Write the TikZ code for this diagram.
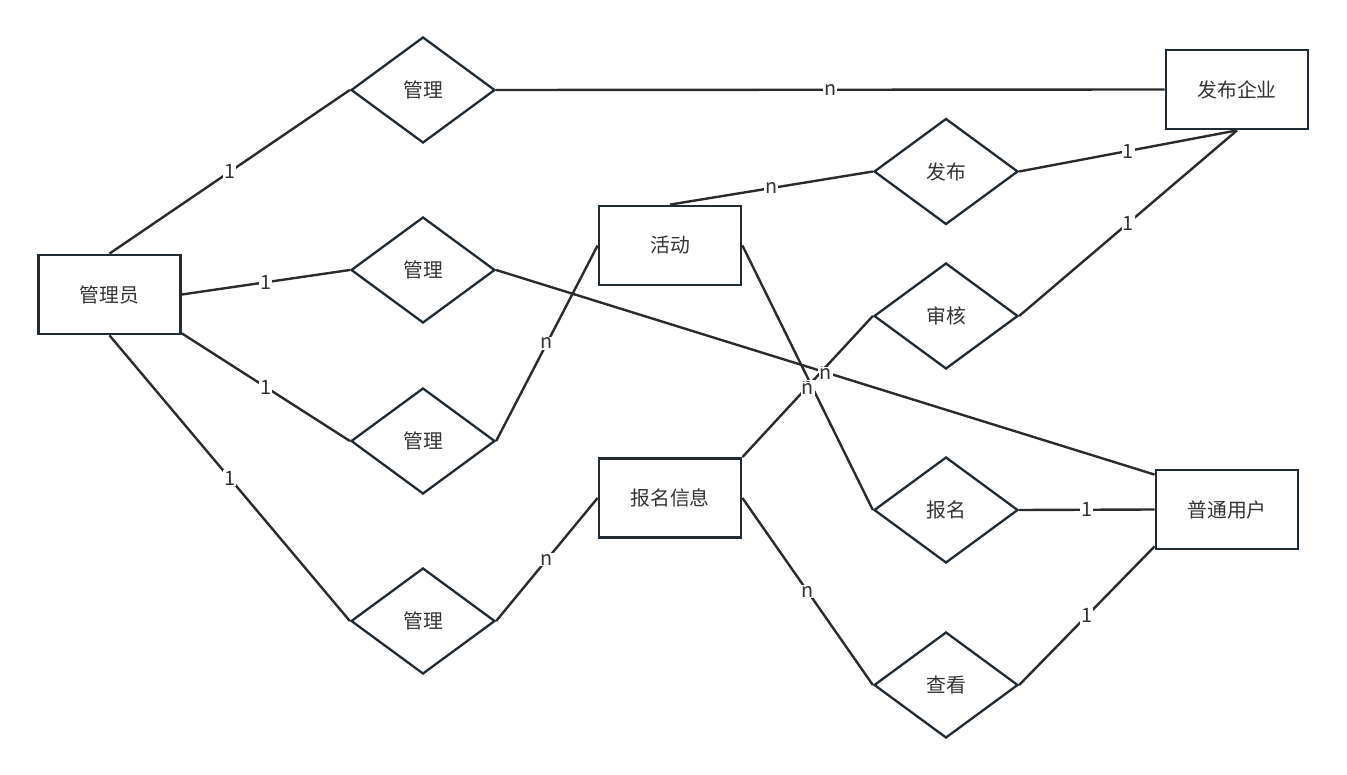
\documentclass[tikz,border=0pt]{standalone}
\usepackage{fontspec}
\setmainfont{Noto Sans CJK SC}
\usetikzlibrary{shapes.geometric}
\definecolor{boxline}{HTML}{212B33}
\definecolor{edgeline}{HTML}{2B2B2B}
\definecolor{txt}{HTML}{333333}
\tikzset{
  entity/.style={draw=boxline,line width=2.8pt,fill=white,minimum width=142pt,minimum height=79pt,inner sep=0pt,text=txt},
  relation/.style={draw=boxline,diamond,aspect=1.36,line width=2.3pt,fill=white,minimum width=144pt,minimum height=106pt,inner sep=0pt,text=txt},
  link/.style={draw=edgeline,line width=2.4pt},
  card/.style={fill=white,inner sep=1pt,text=txt}
}
\begin{document}
\begin{tikzpicture}[x=1pt,y=-1pt,font=\fontsize{19.8}{22}\selectfont]
    \useasboundingbox (0,0) rectangle (1347,775);
    % entities
    \node [entity] (admin) at (109.5,294.5) {管理员};
    \node [entity] (corp) at (1237,89.5) {发布企业};
    \node [entity] (act) at (670,245.5) {活动};
    \node [entity] (enroll) at (670,498) {报名信息};
    \node [entity] (user) at (1227,509.5) {普通用户};
    % relations
    \node [relation] (m1) at (423,90) {管理};
    \node [relation] (m2) at (423,270) {管理};
    \node [relation] (m3) at (423,441) {管理};
    \node [relation] (m4) at (423,621) {管理};
    \node [relation] (pub) at (946,171.5) {发布};
    \node [relation] (chk) at (946,316) {审核};
    \node [relation] (sign) at (946,510) {报名};
    \node [relation] (look) at (946,685) {查看};
    % links
    \draw [link] (admin.north) -- (m1.west) node [card,pos=0.5] {1};
    \draw [link] (m1.east) -- (corp.west) node [card,pos=0.5] {n};
    \draw [link] (admin.east) -- (m2.west) node [card,pos=0.5] {1};
    \draw [link] (m2.east) -- ([yshift=-6pt]user.north west) node [card,pos=0.5] {n};
    \draw [link] ([yshift=2pt]admin.south east) -- (m3.west) node [card,pos=0.5] {1};
    \draw [link] (m3.east) -- (act.west) node [card,pos=0.5] {n};
    \draw [link] (admin.south) -- (m4.west) node [card,pos=0.5] {1};
    \draw [link] (m4.east) -- (enroll.west) node [card,pos=0.5] {n};
    \draw [link] (act.north) -- (pub.west) node [card,pos=0.5] {n};
    \draw [link] (pub.east) -- (corp.south) node [card,pos=0.5] {1};
    \draw [link] (chk.east) -- (corp.south) node [card,pos=0.5] {1};
    \draw [link] (act.east) -- (sign.west);
    \draw [link] (enroll.north east) -- (chk.west) node [card,pos=0.5] {n};
    \draw [link] (sign.east) -- (user.west) node [card,pos=0.5] {1};
    \draw [link] (enroll.east) -- (look.west) node [card,pos=0.5] {n};
    \draw [link] (look.east) -- ([yshift=4pt]user.south west) node [card,pos=0.5] {1};
    % n labels at the crossing, on top
    \node [card] (nx1) at (826,374) {n};
    \node [card] (nx2) at (808,389) {n};
\end{tikzpicture}
\end{document}
